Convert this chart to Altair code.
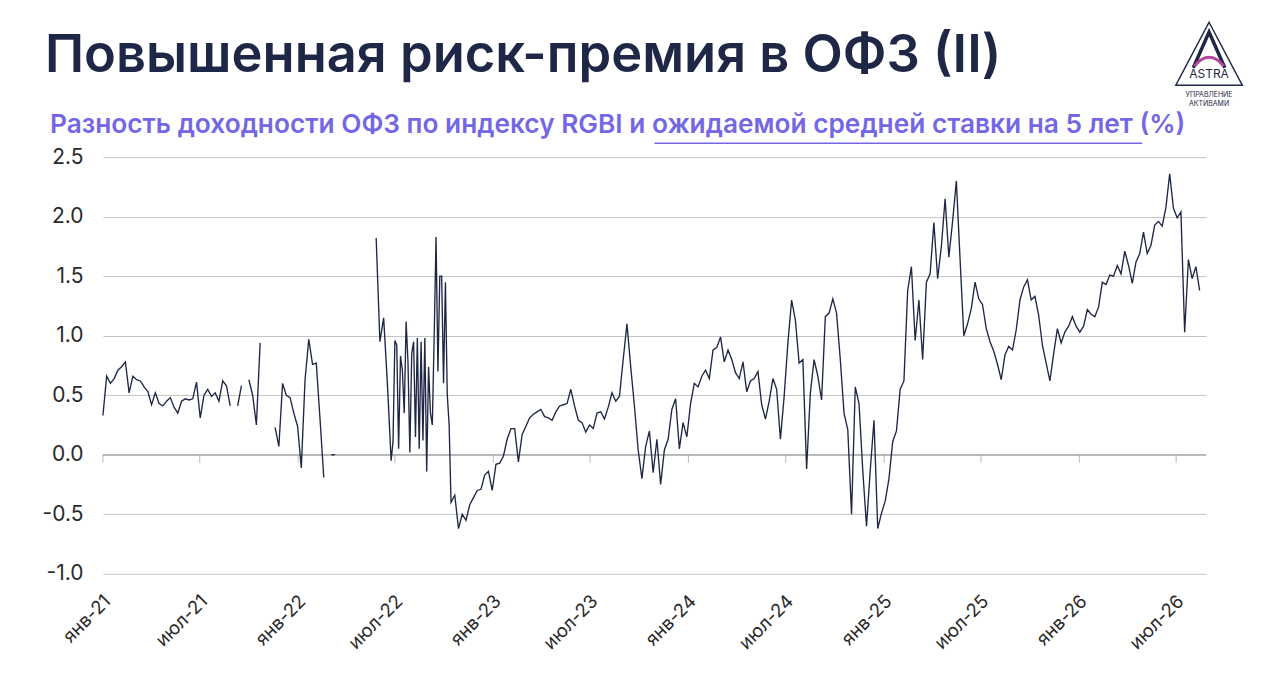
import altair as alt
import pandas as pd

# ---- data: spread of OFZ (RGBI) yield over expected 5y average rate, % ----
# each block: start date, step in days, values (None = no data)
spread_2021 = [0.33, 0.66, 0.60, 0.64, 0.71, 0.74, 0.78, 0.52, 0.66, 0.63,
               0.62, 0.57, 0.53, 0.42, 0.52, 0.43, 0.41, 0.45, 0.48, 0.40,
               0.35, 0.45, 0.47, 0.46, 0.47, 0.61, 0.31, 0.50, 0.55, 0.49,
               0.52, 0.45, 0.62, 0.58, 0.41, None, 0.41, 0.58, None, 0.63,
               0.50, 0.25, 0.94, None, None, None, 0.23, 0.07, 0.60, 0.50,
               0.48, 0.35, 0.24]
spread_2022_h1 = [-0.11, 0.63, 0.97, 0.76, 0.77, 0.30, -0.19, None, 0.0, 0.0,
                  None, None, None, None, None, None, None, None, None, None,
                  1.82, 0.95, 1.15, 0.60]
spread_2022_h2 = [-0.05, 0.11, 0.96, 0.92, 0.05, 0.83, 0.71, 0.35, 1.12, 0.78,
                  0.02, 0.85, 0.95, 0.15, 0.98, 0.05, 0.95, 0.12, 0.98, -0.14,
                  0.74, 0.35, 0.25, 1.00, 1.83, 0.70, 1.50, 1.50, 0.60, 1.45,
                  0.50, 0.25, -0.40]
spread_2022_q4 = [-0.34, -0.62, -0.50, -0.55, -0.42, -0.36, -0.30, -0.29, -0.17, -0.14, -0.30]
spread_2023 = [-0.08, -0.07, -0.01, 0.13, 0.22, 0.22, -0.06, 0.17, 0.24, 0.31,
               0.34, 0.36, 0.38, 0.32, 0.31, 0.29, 0.36, 0.41, 0.42, 0.43,
               0.55, 0.41, 0.29, 0.27, 0.19, 0.25, 0.22, 0.35, 0.36, 0.30,
               0.40, 0.52, 0.45, 0.49, 0.80, 1.10, 0.74, 0.41, 0.04, -0.20,
               0.07, 0.20, -0.15, 0.13, -0.25, 0.04, 0.13, 0.38, 0.47, 0.05,
               0.27, 0.15]
spread_2024 = [0.43, 0.60, 0.57, 0.66, 0.71, 0.64, 0.88, 0.90, 0.99, 0.78,
               0.88, 0.80, 0.69, 0.64, 0.78, 0.53, 0.62, 0.64, 0.70, 0.42,
               0.30, 0.45, 0.64, 0.55, 0.13, 0.49, 0.94, 1.30, 1.13, 0.77,
               0.80, -0.12, 0.52, 0.80, 0.66, 0.46, 1.16, 1.19, 1.31, 1.19,
               0.80, 0.35, 0.21, -0.50, 0.57, 0.43, -0.13, -0.60, -0.13, 0.29,
               -0.62, -0.49]
spread_2025 = [-0.39, -0.20, 0.11, 0.20, 0.55, 0.62, 1.38, 1.58, 0.96, 1.30,
               0.80, 1.45, 1.52, 1.95, 1.48, 1.75, 2.15, 1.66, 1.96, 2.30,
               1.64, 1.00, 1.10, 1.23, 1.45, 1.31, 1.26, 1.06, 0.95, 0.87,
               0.76, 0.63, 0.84, 0.91, 0.88, 1.05, 1.30, 1.41, 1.47, 1.30,
               1.33, 1.17, 0.92, 0.77, 0.62, 0.85, 1.06, 0.94, 1.03, 1.08,
               1.16, 1.08]
spread_2026 = [1.03, 1.08, 1.22, 1.18, 1.16, 1.24, 1.45, 1.43, 1.51, 1.50,
               1.59, 1.52, 1.71, 1.59, 1.44, 1.62, 1.69, 1.87, 1.69, 1.76,
               1.93, 1.96, 1.92, 2.08, 2.36, 2.07, 1.99, 2.04, 1.03, 1.64,
               1.48, 1.58, 1.38]

blocks = [
    ("2021-01-01", 7.0, spread_2021),
    ("2022-01-07", 7.0, spread_2022_h1),
    ("2022-06-24", 3.5, spread_2022_h2),
    ("2022-10-21", 7.0, spread_2022_q4),
    ("2023-01-06", 7.0, spread_2023),
    ("2024-01-05", 7.0, spread_2024),
    ("2025-01-03", 7.0, spread_2025),
    ("2026-01-02", 7.0, spread_2026),
]

tick_dates = ["2021-01-01", "2021-07-01", "2022-01-01", "2022-07-01", "2023-01-01",
              "2023-07-01", "2024-01-01", "2024-07-01", "2025-01-01", "2025-07-01",
              "2026-01-01", "2026-07-01"]
y_ticks = [-1.0, -0.5, 0.0, 0.5, 1.0, 1.5, 2.0, 2.5]

TITLE = "Повышенная риск-премия в ОФЗ (II)"
SUBTITLE = "Разность доходности ОФЗ по индексу RGBI и ожидаемой средней ставки на 5 лет (%)"

# ---- build table ----
rows = []
run = 0
for start, step, vals in blocks:
    t0 = pd.Timestamp(start)
    for i, v in enumerate(vals):
        if v is None:
            run += 1
            continue
        d = t0 + pd.Timedelta(days=step * i)
        rows.append({"date": d.strftime("%Y-%m-%dT%H:%M:%SZ"), "value": v, "run": run})
df = pd.DataFrame(rows)

NAVY = "#1f2746"
PURPLE = "#7467e6"
FONT = "Inter"

def utc_dt(s):
    t = pd.Timestamp(s)
    return alt.DateTime(year=t.year, month=t.month, date=t.day, utc=True)

x_scale = alt.Scale(type="utc", domain=[utc_dt("2021-01-01"), utc_dt("2026-08-26")])
y_scale = alt.Scale(domain=[-1.0, 2.5], nice=False, zero=False)

line = alt.Chart(df).mark_line(color=NAVY, strokeWidth=1.35).encode(
    x=alt.X("date:T", scale=x_scale, axis=alt.Axis(
        values=[utc_dt(s) for s in tick_dates],
        labelExpr="(utcFormat(datum.value, '%m') == '01' ? 'янв-' : 'июл-') + utcFormat(datum.value, '%y')",
        labelAngle=-45, labelAlign="right", labelBaseline="middle",
        labelFontSize=18.5, labelColor="#2a2a2a", labelFont=FONT, labelPadding=24, labelOffset=4,
        ticks=False, domain=False, grid=False, title=None)),
    y=alt.Y("value:Q", scale=y_scale, axis=alt.Axis(
        values=y_ticks,
        labelExpr="replace(format(datum.value, '.1f'), '\u2212', '-')",
        labelFontSize=21, labelColor="#2a2a2a", labelFont=FONT, labelPadding=20,
        ticks=False, domain=False, grid=True, gridColor="#c4c4c4", gridWidth=1,
        title=None)),
    detail="run:N",
)

zero_rule = alt.Chart(pd.DataFrame({"v": [0.0]})).mark_rule(
    color="#9a9a9a", strokeWidth=1).encode(y=alt.Y("v:Q", scale=y_scale))

ticks = alt.Chart(pd.DataFrame({"date": [s + "T00:00:00Z" for s in tick_dates], "v": [0.0] * len(tick_dates)})).mark_tick(
    orient="vertical", size=8, thickness=1, color="#9a9a9a", yOffset=4).encode(
    x=alt.X("date:T", scale=x_scale), y=alt.Y("v:Q", scale=y_scale))

title = alt.Chart(pd.DataFrame({"t": [TITLE]})).mark_text(
    font=FONT, fontSize=52.5, fontWeight=600, color=NAVY, align="left", baseline="alphabetic").encode(
    text="t:N", x=alt.value(-58), y=alt.value(-85))

subtitle = alt.Chart(pd.DataFrame({"t": [SUBTITLE]})).mark_text(
    font=FONT, fontSize=26.3, fontWeight=600, color=PURPLE, align="left", baseline="alphabetic").encode(
    text="t:N", x=alt.value(-53), y=alt.value(-24))

underline = alt.Chart(pd.DataFrame({"k": [1]})).mark_rule(color=PURPLE, strokeWidth=1.5).encode(
    x=alt.value(552), x2=alt.value(1040), y=alt.value(-14))

# logo
LX, LY = 1107, -100
logo_tri = alt.Chart(pd.DataFrame({"k": [1]})).mark_point(
    shape="M0,-1L0.95,0.8L-0.95,0.8Z", filled=False, size=4900, strokeWidth=1.5, color=NAVY, opacity=1).encode(
    x=alt.value(LX), y=alt.value(LY))
logo_a = alt.Chart(pd.DataFrame({"k": [1]})).mark_point(
    shape="M-0.45,0.3L0,-0.72L0.45,0.3", filled=False, size=4900, strokeWidth=3.5, color=NAVY, opacity=1).encode(
    x=alt.value(LX), y=alt.value(LY))
logo_arc = alt.Chart(pd.DataFrame({"k": [1]})).mark_point(
    shape="M-0.42,0.25Q0,-0.25 0.42,0.25", filled=False, size=4900, strokeWidth=3, color="#b4479a", opacity=1).encode(
    x=alt.value(LX), y=alt.value(LY))
logo_txt = alt.Chart(pd.DataFrame({"t": ["ASTRA"]})).mark_text(
    font=FONT, fontSize=12, color=NAVY, align="center", baseline="middle").encode(
    text="t:N", x=alt.value(LX), y=alt.value(-83))
logo_sub1 = alt.Chart(pd.DataFrame({"t": ["УПРАВЛЕНИЕ"]})).mark_text(
    font=FONT, fontSize=7, color=NAVY, align="center", baseline="middle").encode(
    text="t:N", x=alt.value(LX), y=alt.value(-62))
logo_sub2 = alt.Chart(pd.DataFrame({"t": ["АКТИВАМИ"]})).mark_text(
    font=FONT, fontSize=7, color=NAVY, align="center", baseline="middle").encode(
    text="t:N", x=alt.value(LX), y=alt.value(-53))

chart = alt.layer(
    zero_rule, line, ticks, title, subtitle, underline,
    logo_tri, logo_a, logo_arc, logo_txt, logo_sub1, logo_sub2,
).properties(
    width=1104, height=417,
    autosize=alt.AutoSizeParams(type="none"),
    padding={"left": 95, "top": 149, "right": 66, "bottom": 100},
    background="white",
).configure_view(stroke=None)

chart.save("out.html", embed_options={"renderer": "svg", "actions": False})
